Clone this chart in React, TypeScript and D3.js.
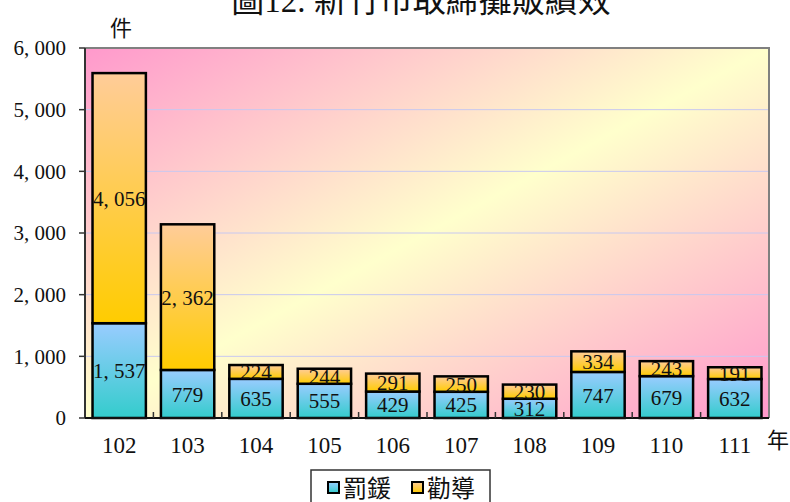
import React, { useRef, useEffect } from "react";
import * as d3 from "d3";

const years = ["102", "103", "104", "105", "106", "107", "108", "109", "110", "111"];
const fines = [1537, 779, 635, 555, 429, 425, 312, 747, 679, 632];
const warnings = [4056, 2362, 224, 244, 291, 250, 230, 334, 243, 191];
const yTicks = [0, 1000, 2000, 3000, 4000, 5000, 6000];
const seriesNames = ["罰鍰", "勸導"];

const FONT = '"Liberation Serif", "DejaVu Serif", "Noto Sans CJK TC", serif';

const fmt = (v: number) => d3.format(",")(v).replace(",", ", ");

const App = () => {
  const ref = useRef<SVGSVGElement>(null);

  useEffect(() => {
    const W = 790, H = 502;
    const left = 85, right = 769, top = 48, bottom = 418;

    const svg = d3.select(ref.current);
    svg.selectAll("*").remove();
    svg.attr("width", W).attr("height", H);

    const defs = svg.append("defs");
    const bg = defs.append("linearGradient").attr("id", "bg")
      .attr("x1", 0).attr("y1", 0).attr("x2", 1).attr("y2", 1);
    bg.append("stop").attr("offset", "0%").attr("stop-color", "#ff99cc");
    bg.append("stop").attr("offset", "50%").attr("stop-color", "#ffffcc");
    bg.append("stop").attr("offset", "100%").attr("stop-color", "#ff99cc");

    const gBlue = defs.append("linearGradient").attr("id", "gBlue")
      .attr("x1", 0).attr("y1", 0).attr("x2", 0).attr("y2", 1);
    gBlue.append("stop").attr("offset", "0%").attr("stop-color", "#99ccff");
    gBlue.append("stop").attr("offset", "100%").attr("stop-color", "#33cccc");

    const gOrange = defs.append("linearGradient").attr("id", "gOrange")
      .attr("x1", 0).attr("y1", 0).attr("x2", 0).attr("y2", 1);
    gOrange.append("stop").attr("offset", "0%").attr("stop-color", "#ffcc99");
    gOrange.append("stop").attr("offset", "100%").attr("stop-color", "#ffcc00");

    const x = d3.scaleBand().domain(years).range([left, right]).paddingInner(0.22).paddingOuter(0.11);
    const band = d3.scaleBand().domain(years).range([left, right]);
    const y = d3.scaleLinear().domain([0, 6000]).range([bottom, top]);

    // plot background
    svg.append("rect").attr("x", left).attr("y", top)
      .attr("width", right - left).attr("height", bottom - top)
      .attr("fill", "url(#bg)");

    // gridlines
    svg.append("g").selectAll("line").data(yTicks.filter(t => t > 0 && t < 6000)).join("line")
      .attr("x1", left).attr("x2", right)
      .attr("y1", d => y(d)).attr("y2", d => y(d))
      .attr("stroke", "#c8c8f0").attr("stroke-width", 1);

    // border top/right
    svg.append("path")
      .attr("d", `M${left},${top}H${right}V${bottom}`)
      .attr("fill", "none").attr("stroke", "#808080").attr("stroke-width", 2);

    // y axis
    const ya = svg.append("g");
    ya.append("line").attr("x1", left).attr("x2", left).attr("y1", top).attr("y2", bottom)
      .attr("stroke", "#333").attr("stroke-width", 2);
    ya.selectAll("line.t").data(yTicks).join("line").attr("class", "t")
      .attr("x1", left - 6).attr("x2", left)
      .attr("y1", d => y(d)).attr("y2", d => y(d))
      .attr("stroke", "#333").attr("stroke-width", 1.5);
    ya.selectAll("text").data(yTicks).join("text")
      .attr("x", 66).attr("y", d => y(d)).attr("dy", "0.35em")
      .attr("text-anchor", "end").attr("font-family", FONT).attr("font-size", 21)
      .attr("fill", "#111").text(d => fmt(d));

    // bars
    const g = svg.append("g");
    years.forEach((yr, i) => {
      const f = fines[i], w = warnings[i];
      g.append("rect").attr("x", x(yr)!).attr("width", x.bandwidth())
        .attr("y", y(f)).attr("height", y(0) - y(f))
        .attr("fill", "url(#gBlue)").attr("stroke", "#000").attr("stroke-width", 2.5);
      g.append("rect").attr("x", x(yr)!).attr("width", x.bandwidth())
        .attr("y", y(f + w)).attr("height", y(f) - y(f + w))
        .attr("fill", "url(#gOrange)").attr("stroke", "#000").attr("stroke-width", 2.5);
    });
    years.forEach((yr, i) => {
      const f = fines[i], w = warnings[i];
      const cx = x(yr)! + x.bandwidth() / 2;
      g.append("text").attr("x", cx).attr("y", (y(0) + y(f)) / 2).attr("dy", "0.36em")
        .attr("text-anchor", "middle").attr("font-family", FONT).attr("font-size", 21)
        .attr("fill", "#111").text(fmt(f));
      g.append("text").attr("x", cx).attr("y", (y(f) + y(f + w)) / 2).attr("dy", "0.36em")
        .attr("text-anchor", "middle").attr("font-family", FONT).attr("font-size", 21)
        .attr("fill", "#111").text(fmt(w));
    });

    // x axis
    const xa = svg.append("g");
    xa.append("line").attr("x1", left).attr("x2", right).attr("y1", bottom).attr("y2", bottom)
      .attr("stroke", "#111").attr("stroke-width", 2);
    xa.selectAll("line.t").data(years.slice(1)).join("line").attr("class", "t")
      .attr("x1", d => band(d)!).attr("x2", d => band(d)!)
      .attr("y1", bottom - 6).attr("y2", bottom)
      .attr("stroke", "#333").attr("stroke-width", 1.5);
    xa.selectAll("text").data(years).join("text")
      .attr("x", d => band(d)! + band.bandwidth() / 2).attr("y", 445).attr("dy", "0.35em")
      .attr("text-anchor", "middle").attr("font-family", FONT).attr("font-size", 23)
      .attr("fill", "#111").text(d => d);

    // units
    svg.append("text").attr("x", 121).attr("y", 28).attr("dy", "0.35em")
      .attr("text-anchor", "middle").attr("font-family", FONT).attr("font-size", 22)
      .attr("fill", "#111").text("件");
    svg.append("text").attr("x", 778).attr("y", 440).attr("dy", "0.35em")
      .attr("text-anchor", "middle").attr("font-family", FONT).attr("font-size", 22)
      .attr("fill", "#111").text("年");

    // title (partly above the top edge, as in the source image)
    svg.append("text").attr("x", 421).attr("y", 12)
      .attr("text-anchor", "middle").attr("font-family", FONT).attr("font-size", 33)
      .attr("fill", "#111").text("圖12. 新竹市取締攤販績效");

    // legend
    const lg = svg.append("g");
    lg.append("rect").attr("x", 311).attr("y", 470).attr("width", 179).attr("height", 40)
      .attr("fill", "#fff").attr("stroke", "#333").attr("stroke-width", 1.5);
    const fills = ["url(#gBlue)", "url(#gOrange)"];
    seriesNames.forEach((nm, i) => {
      const lx = 328 + i * 84;
      lg.append("rect").attr("x", lx).attr("y", 482).attr("width", 11).attr("height", 11)
        .attr("fill", fills[i]).attr("stroke", "#000").attr("stroke-width", 2);
      lg.append("text").attr("x", lx + 15).attr("y", 488).attr("dy", "0.36em")
        .attr("font-family", FONT).attr("font-size", 24).attr("fill", "#111").text(nm);
    });
  }, []);

  return <svg ref={ref} style={{ position: "absolute", left: 0, top: 0 }}></svg>;
};

export default App;
